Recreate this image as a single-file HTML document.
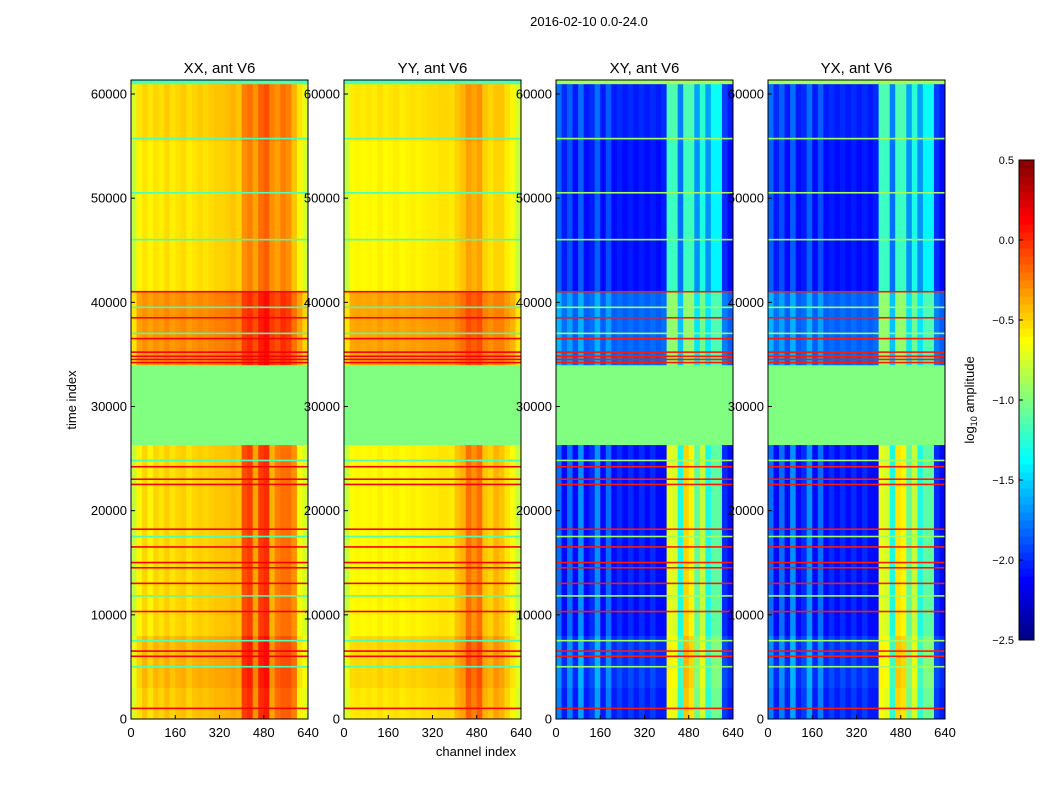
<!DOCTYPE html>
<html><head><meta charset="utf-8"><style>
body{margin:0;background:#fff;width:1050px;height:800px;overflow:hidden;font-family:"Liberation Sans",sans-serif}
svg text{font-family:"Liberation Sans",sans-serif}
</style></head><body>
<svg id="fig" width="1050" height="800">
<text x="589" y="26" font-size="13" text-anchor="middle">2016-02-10 0.0-24.0</text>
<text transform="translate(76,400) rotate(-90)" font-size="13" text-anchor="middle">time index</text>
<text x="476" y="756" font-size="13" text-anchor="middle">channel index</text>
<text transform="translate(974,400) rotate(-90)" font-size="13" text-anchor="middle">log<tspan font-size="9" dy="3">10</tspan><tspan dy="-3"> amplitude</tspan></text>
</svg>
<script>
// ---- data ----
const panelTitles = ["XX, ant V6","YY, ant V6","XY, ant V6","YX, ant V6"];
const chanBinWidth = 20;
const colXXlow = [-0.8,-0.6,-0.5,-0.6,-0.5,-0.55,-0.48,-0.55,-0.5,-0.48,-0.55,-0.5,-0.48,-0.5,-0.48,-0.46,-0.46,-0.45,-0.42,-0.45,-0.1,-0.05,-0.35,-0.05,0.0,-0.4,-0.25,-0.2,-0.2,-0.3,-0.65,-0.75];
const colXXup  = [-0.8,-0.6,-0.55,-0.6,-0.55,-0.58,-0.52,-0.58,-0.55,-0.52,-0.58,-0.55,-0.52,-0.55,-0.52,-0.5,-0.5,-0.48,-0.45,-0.5,-0.3,-0.25,-0.35,-0.2,-0.15,-0.3,-0.35,-0.25,-0.3,-0.45,-0.6,-0.75];
const colYYlow = [-0.8,-0.62,-0.6,-0.62,-0.6,-0.62,-0.58,-0.62,-0.6,-0.58,-0.62,-0.6,-0.58,-0.6,-0.58,-0.57,-0.57,-0.55,-0.55,-0.57,-0.45,-0.4,-0.2,-0.3,-0.2,-0.45,-0.5,-0.4,-0.45,-0.55,-0.65,-0.8];
const colYYup  = [-0.8,-0.62,-0.6,-0.62,-0.6,-0.62,-0.58,-0.62,-0.6,-0.58,-0.62,-0.6,-0.58,-0.6,-0.58,-0.57,-0.57,-0.55,-0.55,-0.57,-0.5,-0.45,-0.35,-0.4,-0.35,-0.5,-0.55,-0.5,-0.5,-0.58,-0.65,-0.8];
const colXYlow = [-1.8,-2.1,-1.8,-2.1,-1.7,-2.1,-2.0,-1.7,-2.1,-1.8,-2.1,-2.0,-2.1,-2.0,-2.1,-2.0,-2.1,-2.0,-2.1,-2.1,-0.7,-0.75,-1.3,-0.5,-0.6,-1.1,-0.8,-1.3,-1.1,-1.1,-2.0,-2.1];
const colXYup  = [-1.85,-2.05,-1.9,-2.1,-1.85,-2.1,-2.05,-1.85,-2.1,-1.9,-2.1,-2.05,-2.1,-2.05,-2.1,-2.05,-2.1,-2.05,-2.1,-2.05,-1.2,-1.2,-1.8,-1.2,-1.2,-1.7,-1.3,-1.7,-1.4,-1.4,-2.0,-2.1];
const colYXlow = [-1.8,-2.1,-1.8,-2.1,-1.7,-2.1,-2.0,-1.7,-2.1,-1.8,-2.1,-2.0,-2.1,-2.0,-2.1,-2.0,-2.1,-2.0,-2.1,-2.1,-0.7,-0.75,-1.3,-0.55,-0.6,-1.1,-0.8,-1.3,-1.1,-1.1,-2.0,-2.1];
const colYXup  = [-1.85,-2.05,-1.9,-2.1,-1.85,-2.1,-2.05,-1.85,-2.1,-1.9,-2.1,-2.05,-2.1,-2.05,-2.1,-2.05,-2.1,-2.05,-2.1,-2.05,-1.2,-1.2,-1.8,-1.2,-1.2,-1.7,-1.3,-1.7,-1.4,-1.4,-2.0,-2.1];
const segStart = [0,3000,8000,26300,34000,41000,55500];
const segEnd   = [3000,8000,26300,34000,41000,55500,61300];
const segProfile = [0,0,0,-1,1,1,1]; // 0 = lower profile, 1 = upper profile, -1 = flagged gap
const segOffset = [0.05,0.1,0,0,0.25,0,0.05];
const gapValue = -1.0;
const redLines = [1000,6000,6500,10300,13000,14500,15000,16500,18200,22500,23000,24200,34200,34500,34800,35200,36500,38500,41000];
const cyanLines = [5000,7500,11800,17500,24800,37000,39500,46000,50500,55700,61000];
const redValue = [0.15,0.15,0.05,0.05];
const cyanValue = [-1.15,-1.15,-0.9,-0.9];
const cbTicks = [0.5,0.0,-0.5,-1.0,-1.5,-2.0,-2.5];
const yTicks = [0,10000,20000,30000,40000,50000,60000];
const xTicks = [0,160,320,480,640];
// ---- layout ----
const NS="http://www.w3.org/2000/svg";
const svg=document.getElementById('fig');
const panelLeft=[131,344,556,768], pw=177, pTop=80, pBottom=719;
const vmin=-2.5,vmax=0.5;
function ys(t){return 719-(t/60000)*625;}
function xs(i,c){return panelLeft[i]+c/640*pw;}
function clamp(v){return Math.max(0,Math.min(1,v));}
function jet(v){let t=clamp((v-vmin)/(vmax-vmin));
 const r=clamp(1.5-Math.abs(4*t-3)),g=clamp(1.5-Math.abs(4*t-2)),b=clamp(1.5-Math.abs(4*t-1));
 return `rgb(${Math.round(r*255)},${Math.round(g*255)},${Math.round(b*255)})`;}
function mk(tag,attrs,parent){const e=document.createElementNS(NS,tag);for(const k in attrs)e.setAttribute(k,attrs[k]);(parent||svg).appendChild(e);return e;}
const cols=[[colXXlow,colXXup],[colYYlow,colYYup],[colXYlow,colXYup],[colYXlow,colYXup]];
for(let p=0;p<4;p++){
 const g=mk('g',{});
 
 
 for(let s=0;s<segStart.length;s++){
  const y1=ys(segEnd[s]),y0=ys(segStart[s]);
  if(segProfile[s]<0){
   const r=mk('rect',{x:xs(p,0),y:y1,width:pw,height:y0-y1,fill:jet(gapValue)},g);
   
   
   continue;}
  const prof=cols[p][segProfile[s]];
  for(let c=0;c<prof.length;c++){
   const x0=xs(p,c*chanBinWidth),x1=xs(p,(c+1)*chanBinWidth);
   const r=mk('rect',{x:x0,y:y1,width:x1-x0+0.4,height:y0-y1+0.4,fill:jet(prof[c]+segOffset[s])},g);
   
   
  }
 }
 for(const t of redLines){const r=mk('rect',{x:xs(p,0),y:ys(t)-1,width:pw,height:1.6,fill:jet(redValue[p])},g);
  
  }
 for(const t of cyanLines){const r=mk('rect',{x:xs(p,0),y:ys(t)-1,width:pw,height:1.6,fill:jet(cyanValue[p])},g);
  
  }
 mk('rect',{x:xs(p,0),y:pTop,width:pw,height:ys(61000)-pTop,fill:jet(cyanValue[p])},g);
 const fr=mk('rect',{x:panelLeft[p],y:pTop,width:pw,height:pBottom-pTop,fill:'none',stroke:'#000','stroke-width':1});
 
 
 const tt=mk('text',{x:panelLeft[p]+pw/2,y:73,'font-size':15,'text-anchor':'middle'});tt.textContent=panelTitles[p];
 
 
 for(const v of yTicks){const l=mk('text',{x:panelLeft[p]-4,y:ys(v)+4.5,'font-size':13,'text-anchor':'end'});l.textContent=v;
  
  
  mk('line',{x1:panelLeft[p],x2:panelLeft[p]+4,y1:ys(v),y2:ys(v),stroke:'#000'});}
 for(const v of xTicks){const l=mk('text',{x:xs(p,v),y:737,'font-size':13,'text-anchor':'middle'});l.textContent=v;
  
  
  mk('line',{x1:xs(p,v),x2:xs(p,v),y1:pBottom,y2:pBottom-4,stroke:'#000'});}
}
// colorbar
const cbx=1019,cbw=15,cbt=160,cbb=640,N=60;
for(let i=0;i<N;i++){const v=vmin+(i+0.5)/N*(vmax-vmin);const y=cbb-(i+1)/N*(cbb-cbt);
 const r=mk('rect',{x:cbx,y:y,width:cbw,height:(cbb-cbt)/N+0.5,fill:jet(v)});
 
 }
mk('rect',{x:cbx,y:cbt,width:cbw,height:cbb-cbt,fill:'none',stroke:'#000'});
for(const v of cbTicks){const y=cbb-(v-vmin)/(vmax-vmin)*(cbb-cbt);
 mk('line',{x1:cbx,x2:cbx+4,y1:y,y2:y,stroke:'#000'});
 const l=mk('text',{x:1014,y:y+4,'font-size':11,'text-anchor':'end'});l.textContent=(v<0?'\u2212'+Math.abs(v).toFixed(1):v.toFixed(1));
 
 }
</script>
</body></html>
